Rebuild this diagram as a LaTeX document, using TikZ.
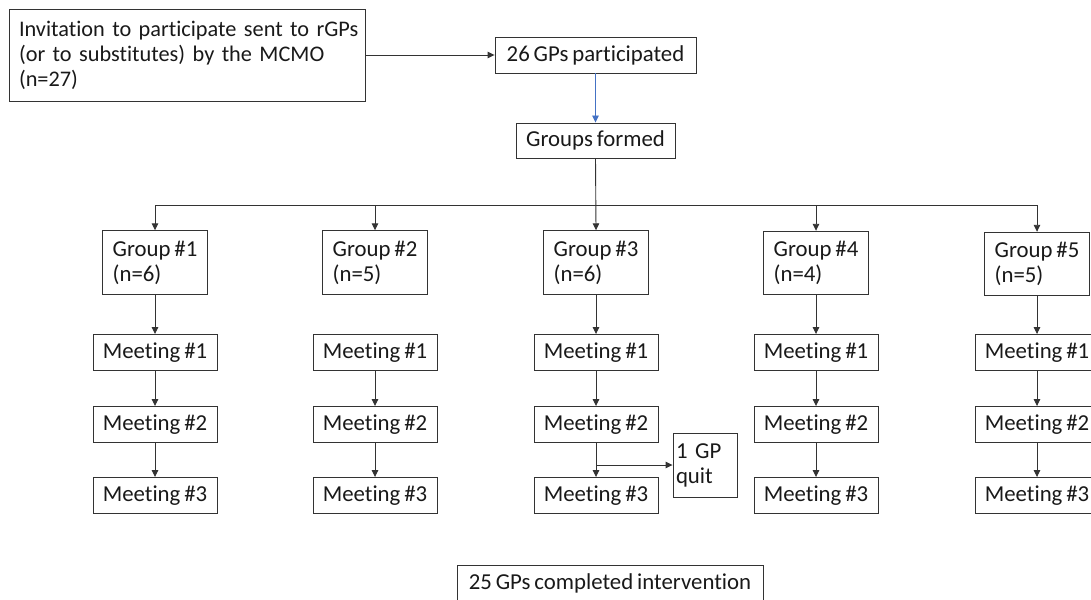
\documentclass[tikz,border=0pt]{standalone}
\usepackage{fontspec}
\setmainfont{Carlito}[RawFeature=-liga]
\usetikzlibrary{arrows.meta}
\definecolor{lineblue}{RGB}{68,114,196}
\newcommand{\boxfont}{\fontsize{22.8}{25}\selectfont\spaceskip=0.17em plus 0.05em minus 0.02em\relax}
\newcommand{\invfont}{\fontsize{22.3}{25}\selectfont\spaceskip=0.14em plus 0.05em minus 0.02em\relax}
\begin{document}
\begin{tikzpicture}[x=1pt,y=-1pt,
  box/.style={draw=black!80, line width=0.9pt, font=\boxfont,
    inner sep=0pt, align=center, text=black!90},
  meet/.style={box, minimum width=124pt, minimum height=36pt},
  grp/.style={box, minimum width=105pt, minimum height=63.5pt, align=left},
  conn/.style={draw=black!80, line width=0.9pt},
  arr/.style={conn, -{Triangle[length=7pt,width=6.5pt]}},
]
\useasboundingbox (0,0) rectangle (1091,599);
\clip (0,0) rectangle (1091,599);

% top
\node[box, font=\invfont, minimum width=356pt, minimum height=92pt, text width=336pt, align=left] (inv) at (187,55)
  {\mbox{Invitation to participate sent to rGPs}\\(or to substitutes) by the MCMO\\(n=27)};
\node[box, minimum width=201pt, minimum height=36pt] (part) at (595.5,55) {26 GPs participated};
\node[box, minimum width=159pt, minimum height=35pt] (gf) at (595.5,140.5) {Groups formed};

% groups
\node[grp] (g1) at (155,262.5) {Group \#1\\(n=6)};
\node[grp] (g2) at (375,262.5) {Group \#2\\(n=5)};
\node[grp] (g3) at (596,262.5) {Group \#3\\(n=6)};
\node[grp] (g4) at (816,263) {Group \#4\\(n=4)};
\node[grp] (g5) at (1037,264) {Group \#5\\(n=5)};

% meetings
\foreach \c/\x in {1/155,2/375,3/596,4/816,5/1037}{
  \node[meet] (m\c a) at (\x,352.5) {Meeting \#1};
  \node[meet] (m\c b) at (\x,424.5) {Meeting \#2};
  \node[meet] (m\c c) at (\x,495.5) {Meeting \#3};
}
\node[box, minimum width=64pt, minimum height=64pt, text width=58pt, align=left] (quit) at (705,465) {1 GP\\quit};
\node[box, minimum width=306pt, minimum height=36pt] (done) at (610,583) {25 GPs completed intervention};

\coordinate (bus) at (596,205);
\coordinate (br) at (m3b.south |- quit.west);

% connectors
\draw[arr] (inv.east |- part.west) -- (part.west);
\draw[conn, draw=lineblue, -{Triangle[length=7pt,width=6.5pt]}] (part.south) -- (gf.north);
\draw[arr] (gf.south) -- (g3.north);
\draw[conn] (g1.north |- bus) -- (g5.north |- bus);
\foreach \g in {g1,g2,g4,g5}{\draw[arr] (\g.north |- bus) -- (\g.north);}
\foreach \c in {1,3,4,5}{\draw[arr] (g\c.south) -- (m\c a.north);}
\foreach \c in {1,2,3,4,5}{
  \draw[arr] (m\c a.south) -- (m\c b.north);
  \draw[arr] (m\c b.south) -- (m\c c.north);
}
\draw[arr] (br) -- (quit.west);
\end{tikzpicture}
\end{document}
